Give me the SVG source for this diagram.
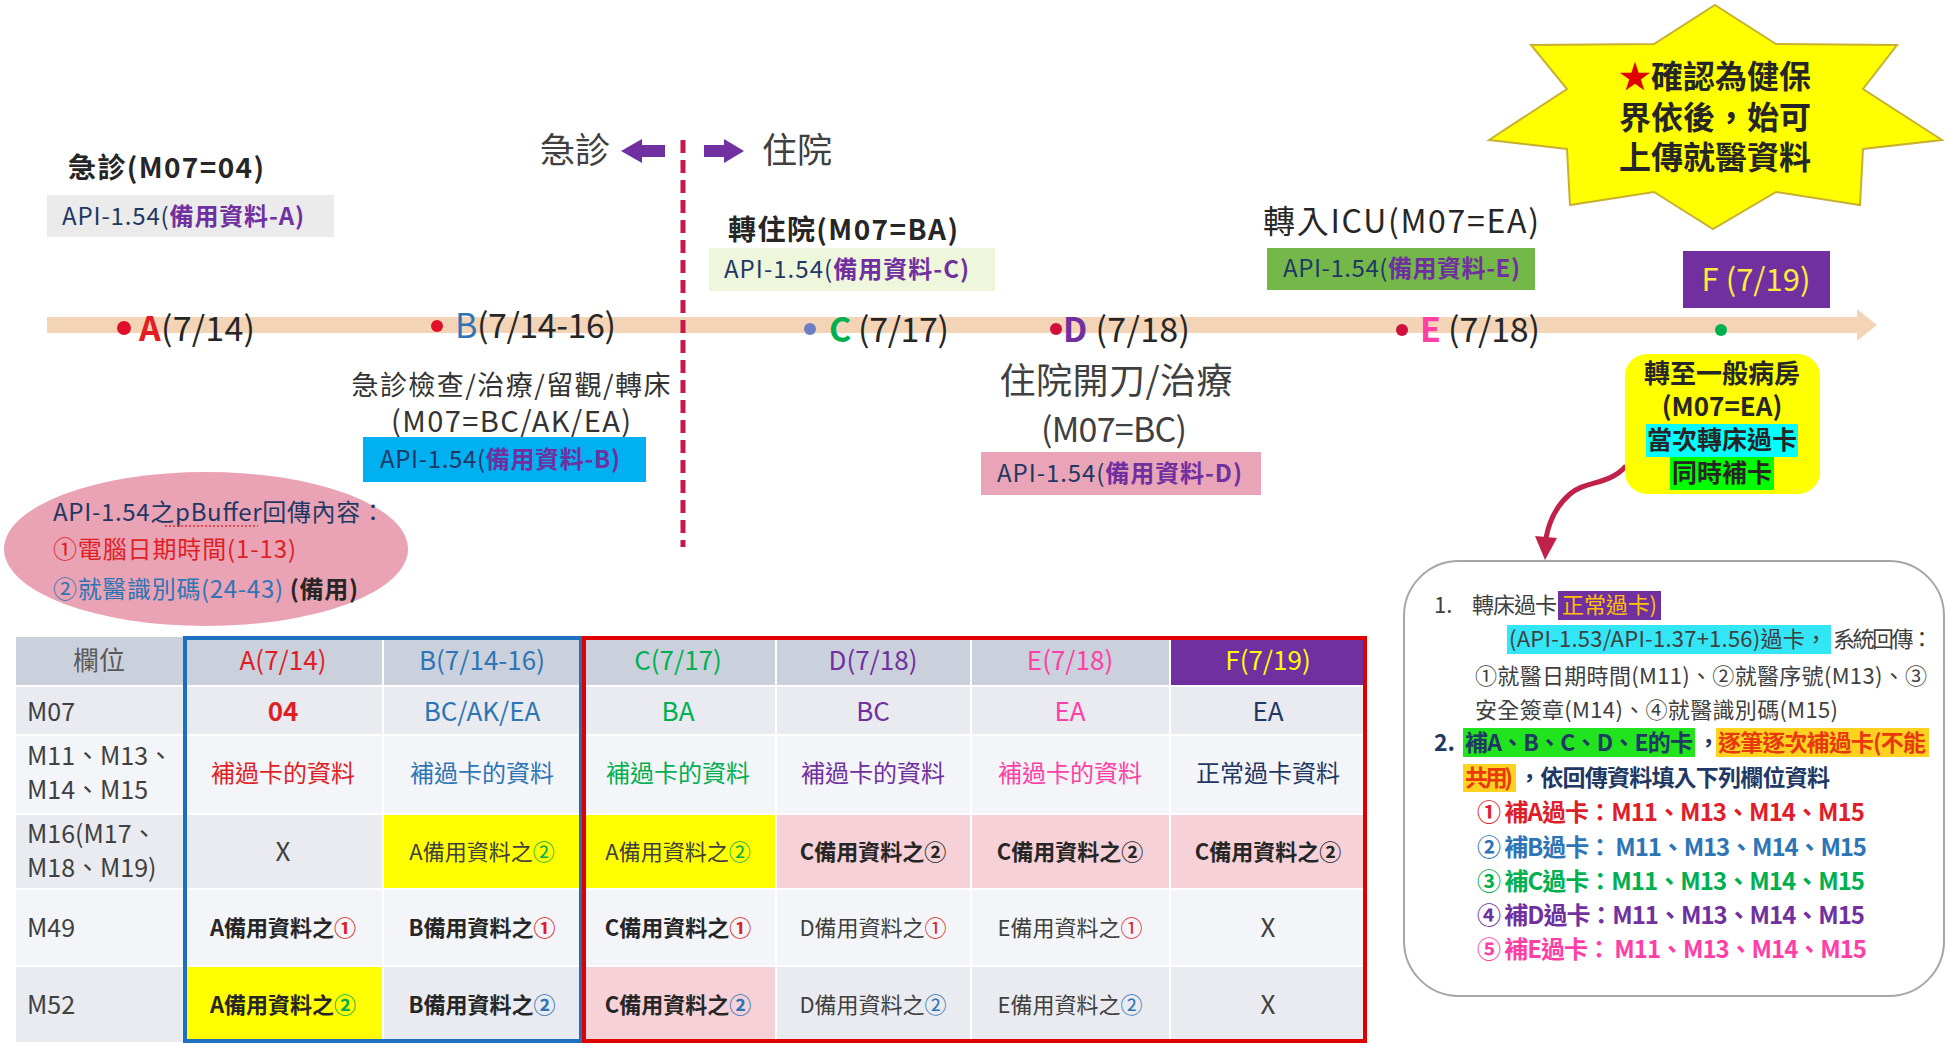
<svg xmlns="http://www.w3.org/2000/svg" width="1948" height="1043" viewBox="0 0 1948 1043">
<style>
text { font-family: "Noto Sans CJK TC", "Noto Sans CJK SC", sans-serif; }
.b { font-weight: bold; }
.navy { fill: #1f3864; }
.pur { fill: #7030a0; }
.dk { fill: #262626; }
.gr { fill: #404040; }
.red { fill: #e01e24; }
.blu { fill: #2e75b6; }
.grn { fill: #00b050; }
.mag { fill: #ff3fa6; }
.api { font-size: 24px; }
.cell { font-size: 24px; text-anchor: middle; }
.hdr { font-size: 26px; text-anchor: middle; }
.lbl { font-size: 25px; fill: #404040; }
.sub { font-size: 22px; text-anchor: middle; }
.tl { font-size: 34px; fill: #262626; }
.note { font-size: 22px; }
.nl { font-size: 24px; font-weight: bold; }
</style>
<rect width="1948" height="1043" fill="#ffffff"/>

<g id="connectors">
  <rect x="47" y="317" width="1812" height="16" fill="#f3d4b6"/>
  <polygon points="1857,309 1877,325 1857,341" fill="#f3d4b6"/>
  <line x1="683" y1="140" x2="683" y2="547" stroke="#c8174a" stroke-width="5" stroke-dasharray="13,7"/>
  <polygon points="621,151 642,139 642,145 665,145 665,157 642,157 642,163" fill="#7030a0"/>
  <polygon points="744,151 724,139 724,145 704,145 704,157 724,157 724,163" fill="#7030a0"/>
  <path d="M1626,466 C1608,486 1586,480 1570,494 C1556,506 1549,522 1546,538" fill="none" stroke="#c0204a" stroke-width="5"/>
  <polygon points="1535,536 1557,538 1545,560" fill="#c0204a"/>
</g>

<g id="label-er">
  <text x="540" y="163" font-size="35" class="gr">急診</text>
</g>
<g id="label-ip">
  <text x="762" y="163" font-size="35" class="gr">住院</text>
</g>

<g id="event-A">
  <text x="68" y="178" font-size="28" class="b dk" textLength="196">急診(M07=04)</text>
  <rect x="47" y="195" width="287" height="42" fill="#ebebeb"/>
  <text x="62" y="225" class="api" textLength="242"><tspan class="navy">API-1.54(</tspan><tspan class="pur b">備用資料-A)</tspan></text>
  <circle cx="124" cy="328" r="7" fill="#e0102a"/>
  <text x="139" y="341" class="tl" textLength="116"><tspan class="red b">A</tspan>(7/14)</text>
</g>

<g id="event-B">
  <circle cx="437" cy="326" r="6" fill="#e0102a"/>
  <text x="455" y="338" class="tl" textLength="161"><tspan class="blu">B</tspan>(7/14-16)</text>
  <text x="511" y="395" font-size="27" text-anchor="middle" fill="#333333" textLength="319">急診檢查/治療/留觀/轉床</text>
  <text x="511" y="432" font-size="29" text-anchor="middle" fill="#333333" textLength="240">(M07=BC/AK/EA)</text>
  <rect x="363" y="437" width="283" height="45" fill="#00b0f0"/>
  <text x="380" y="468" class="api" textLength="240"><tspan class="navy">API-1.54(</tspan><tspan class="pur b">備用資料-B)</tspan></text>
</g>

<g id="event-C">
  <text x="728" y="240" font-size="28" class="b dk" textLength="230">轉住院(M07=BA)</text>
  <rect x="709" y="248" width="286" height="43" fill="#eef6dc"/>
  <text x="724" y="278" class="api" textLength="245"><tspan class="navy">API-1.54(</tspan><tspan class="pur b">備用資料-C)</tspan></text>
  <circle cx="810" cy="329" r="6" fill="#6d7ec4"/>
  <text x="829" y="342" class="tl" textLength="120"><tspan class="grn b">C</tspan> (7/17)</text>
</g>

<g id="event-D">
  <circle cx="1056" cy="329" r="6" fill="#d0103a"/>
  <text x="1063" y="342" class="tl" textLength="127"><tspan class="pur b">D</tspan> (7/18)</text>
  <text x="1116" y="394" font-size="36" text-anchor="middle" class="gr" textLength="233">住院開刀/治療</text>
  <text x="1114" y="442" font-size="34" text-anchor="middle" class="gr" textLength="146">(M07=BC)</text>
  <rect x="981" y="452" width="280" height="43" fill="#e9a5b7"/>
  <text x="997" y="482" class="api" textLength="245"><tspan class="navy">API-1.54(</tspan><tspan class="pur b">備用資料-D)</tspan></text>
</g>

<g id="event-E">
  <text x="1263" y="233" font-size="32" class="dk" textLength="276">轉入ICU(M07=EA)</text>
  <rect x="1267" y="248" width="268" height="42" fill="#74b84a"/>
  <text x="1283" y="277" class="api" textLength="237"><tspan class="navy">API-1.54(</tspan><tspan class="pur b">備用資料-E)</tspan></text>
  <circle cx="1402" cy="330" r="6" fill="#d0103a"/>
  <text x="1420" y="342" class="tl" textLength="120"><tspan class="mag b">E</tspan> (7/18)</text>
</g>

<g id="event-F">
  <rect x="1683" y="251" width="147" height="57" fill="#7030a0"/>
  <text x="1756" y="291" font-size="31" text-anchor="middle" fill="#ffeb3b">F (7/19)</text>
  <circle cx="1721" cy="330" r="6" fill="#00b050"/>
  <rect x="1625" y="354" width="195" height="140" rx="22" fill="#ffff00"/>
  <text x="1722" y="383" font-size="26" text-anchor="middle" class="b dk">轉至一般病房</text>
  <text x="1722" y="416" font-size="26" text-anchor="middle" class="b dk">(M07=EA)</text>
  <rect x="1646" y="424" width="152" height="33" fill="#00ffff"/>
  <text x="1722" y="449" font-size="25" text-anchor="middle" class="b dk">當次轉床過卡</text>
  <rect x="1670" y="457" width="104" height="33" fill="#00ff00"/>
  <text x="1722" y="482" font-size="25" text-anchor="middle" class="b dk">同時補卡</text>
</g>

<g id="star-note">
  <polygon points="1715,5 1776,44 1897,45 1863,89 1942,140 1863,149 1860,205 1776,192 1713,229 1654,192 1570,205 1567,149 1489,140 1567,89 1531,45 1654,44" fill="#ffff00" stroke="#c8b030" stroke-width="2"/>
  <text x="1715" y="88" font-size="32" text-anchor="middle" class="b dk"><tspan fill="#e00000">★</tspan>確認為健保</text>
  <text x="1715" y="129" font-size="32" text-anchor="middle" class="b dk">界依後，始可</text>
  <text x="1715" y="169" font-size="32" text-anchor="middle" class="b dk">上傳就醫資料</text>
</g>

<g id="pbuffer-note">
  <ellipse cx="206" cy="549" rx="202" ry="77" fill="#eaa2b5"/>
  <text x="53" y="521" font-size="24" class="navy" textLength="332">API-1.54之pBuffer回傳內容：</text>
  <line x1="165" y1="526" x2="258" y2="526" stroke="#e03030" stroke-width="1.5" stroke-dasharray="2,2"/>
  <text x="53" y="558" font-size="24" class="red" textLength="243">①電腦日期時間(1-13)</text>
  <text x="53" y="598" font-size="24" textLength="305"><tspan class="blu">②就醫識別碼(24-43)</tspan><tspan class="b dk"> (備用)</tspan></text>
</g>

<g id="table">
  <g stroke="#ffffff" stroke-width="2">
    <rect x="15" y="636" width="169" height="50" fill="#cbd1dc"/>
    <rect x="184" y="636" width="199" height="50" fill="#cbd1dc"/>
    <rect x="383" y="636" width="198" height="50" fill="#cbd1dc"/>
    <rect x="581" y="636" width="195" height="50" fill="#cbd1dc"/>
    <rect x="776" y="636" width="195" height="50" fill="#cbd1dc"/>
    <rect x="971" y="636" width="199" height="50" fill="#cbd1dc"/>
    <rect x="1170" y="636" width="197" height="50" fill="#7030a0"/>

    <rect x="15" y="686" width="169" height="49" fill="#e9ebf0"/>
    <rect x="184" y="686" width="199" height="49" fill="#e9ebf0"/>
    <rect x="383" y="686" width="198" height="49" fill="#e9ebf0"/>
    <rect x="581" y="686" width="195" height="49" fill="#e9ebf0"/>
    <rect x="776" y="686" width="195" height="49" fill="#e9ebf0"/>
    <rect x="971" y="686" width="199" height="49" fill="#e9ebf0"/>
    <rect x="1170" y="686" width="197" height="49" fill="#e9ebf0"/>

    <rect x="15" y="735" width="169" height="79" fill="#f4f5f8"/>
    <rect x="184" y="735" width="199" height="79" fill="#f4f5f8"/>
    <rect x="383" y="735" width="198" height="79" fill="#f4f5f8"/>
    <rect x="581" y="735" width="195" height="79" fill="#f4f5f8"/>
    <rect x="776" y="735" width="195" height="79" fill="#f4f5f8"/>
    <rect x="971" y="735" width="199" height="79" fill="#f4f5f8"/>
    <rect x="1170" y="735" width="197" height="79" fill="#f4f5f8"/>

    <rect x="15" y="814" width="169" height="75" fill="#e9ebf0"/>
    <rect x="184" y="814" width="199" height="75" fill="#e9ebf0"/>
    <rect x="383" y="814" width="198" height="75" fill="#ffff00"/>
    <rect x="581" y="814" width="195" height="75" fill="#ffff00"/>
    <rect x="776" y="814" width="195" height="75" fill="#f6d2d8"/>
    <rect x="971" y="814" width="199" height="75" fill="#f6d2d8"/>
    <rect x="1170" y="814" width="197" height="75" fill="#f6d2d8"/>

    <rect x="15" y="889" width="169" height="77" fill="#f4f5f8"/>
    <rect x="184" y="889" width="199" height="77" fill="#f4f5f8"/>
    <rect x="383" y="889" width="198" height="77" fill="#f4f5f8"/>
    <rect x="581" y="889" width="195" height="77" fill="#f4f5f8"/>
    <rect x="776" y="889" width="195" height="77" fill="#f4f5f8"/>
    <rect x="971" y="889" width="199" height="77" fill="#f4f5f8"/>
    <rect x="1170" y="889" width="197" height="77" fill="#f4f5f8"/>

    <rect x="15" y="966" width="169" height="77" fill="#e9ebf0"/>
    <rect x="184" y="966" width="199" height="77" fill="#ffff00"/>
    <rect x="383" y="966" width="198" height="77" fill="#e9ebf0"/>
    <rect x="581" y="966" width="195" height="77" fill="#f6d2d8"/>
    <rect x="776" y="966" width="195" height="77" fill="#e9ebf0"/>
    <rect x="971" y="966" width="199" height="77" fill="#e9ebf0"/>
    <rect x="1170" y="966" width="197" height="77" fill="#e9ebf0"/>
  </g>
  <rect x="185" y="638" width="396" height="403" fill="none" stroke="#1f6fc0" stroke-width="4"/>
  <rect x="584" y="638" width="781" height="403" fill="none" stroke="#e00000" stroke-width="4"/>

  <text x="99" y="670" class="hdr" fill="#595959">欄位</text>
  <text x="283" y="670" class="hdr red">A(7/14)</text>
  <text x="482" y="670" class="hdr blu">B(7/14-16)</text>
  <text x="678" y="670" class="hdr grn">C(7/17)</text>
  <text x="873" y="670" class="hdr pur">D(7/18)</text>
  <text x="1070" y="670" class="hdr mag">E(7/18)</text>
  <text x="1268" y="670" class="hdr" fill="#ffff00">F(7/19)</text>

  <text x="27" y="721" class="lbl">M07</text>
  <text x="283" y="721" class="hdr red b">04</text>
  <text x="482" y="721" class="hdr blu">BC/AK/EA</text>
  <text x="678" y="721" class="hdr grn">BA</text>
  <text x="873" y="721" class="hdr pur">BC</text>
  <text x="1070" y="721" class="hdr mag">EA</text>
  <text x="1268" y="721" class="hdr navy">EA</text>

  <text x="27" y="765" class="lbl">M11、M13、</text>
  <text x="27" y="799" class="lbl">M14、M15</text>
  <text x="283" y="782" class="cell red">補過卡的資料</text>
  <text x="482" y="782" class="cell blu">補過卡的資料</text>
  <text x="678" y="782" class="cell grn">補過卡的資料</text>
  <text x="873" y="782" class="cell pur">補過卡的資料</text>
  <text x="1070" y="782" class="cell mag">補過卡的資料</text>
  <text x="1268" y="782" class="cell navy">正常過卡資料</text>

  <text x="27" y="843" class="lbl">M16(M17、</text>
  <text x="27" y="877" class="lbl">M18、M19)</text>
  <text x="283" y="861" class="hdr gr">X</text>
  <text x="482" y="860" class="sub gr" font-size="23">A備用資料之<tspan class="grn">②</tspan></text>
  <text x="678" y="860" class="sub gr" font-size="21">A備用資料之<tspan class="grn">②</tspan></text>
  <text x="873" y="860" class="sub b dk">C備用資料之②</text>
  <text x="1070" y="860" class="sub b dk">C備用資料之②</text>
  <text x="1268" y="860" class="sub b dk">C備用資料之②</text>

  <text x="27" y="937" class="lbl">M49</text>
  <text x="283" y="936" class="sub b dk">A備用資料之<tspan class="red">①</tspan></text>
  <text x="482" y="936" class="sub b dk">B備用資料之<tspan class="red">①</tspan></text>
  <text x="678" y="936" class="sub b dk">C備用資料之<tspan class="red">①</tspan></text>
  <text x="873" y="936" class="sub gr">D備用資料之<tspan class="red">①</tspan></text>
  <text x="1070" y="936" class="sub gr">E備用資料之<tspan class="red">①</tspan></text>
  <text x="1268" y="937" class="hdr gr">X</text>

  <text x="27" y="1014" class="lbl">M52</text>
  <text x="283" y="1013" class="sub b dk">A備用資料之<tspan class="grn">②</tspan></text>
  <text x="482" y="1013" class="sub b dk">B備用資料之<tspan class="blu">②</tspan></text>
  <text x="678" y="1013" class="sub b dk">C備用資料之<tspan class="blu">②</tspan></text>
  <text x="873" y="1013" class="sub gr">D備用資料之<tspan class="blu">②</tspan></text>
  <text x="1070" y="1013" class="sub gr">E備用資料之<tspan class="blu">②</tspan></text>
  <text x="1268" y="1014" class="hdr gr">X</text>
</g>

<g id="rule-note">
  <rect x="1404" y="561" width="540" height="435" rx="55" fill="#ffffff" stroke="#a6a6a6" stroke-width="2"/>
  <text x="1434" y="613" class="note gr">1.</text>
  <text x="1472" y="613" class="note gr" textLength="85">轉床過卡</text>
  <rect x="1558" y="591" width="103" height="29" fill="#7030a0"/>
  <text x="1562" y="613" class="note" fill="#ffc000" textLength="95">正常過卡)</text>
  <rect x="1507" y="625" width="324" height="29" fill="#33e6f5"/>
  <text x="1509" y="647" class="note gr" textLength="318">(API-1.53/API-1.37+1.56)過卡，</text>
  <text x="1833" y="647" class="note gr" textLength="100">系統回傳：</text>
  <text x="1475" y="684" class="note gr" textLength="452">①就醫日期時間(M11)、②就醫序號(M13)、③</text>
  <text x="1475" y="718" class="note gr" textLength="363">安全簽章(M14)、④就醫識別碼(M15)</text>
  <text x="1434" y="751" font-size="23" class="b navy">2.</text>
  <rect x="1463" y="728" width="232" height="29" fill="#22e41e"/>
  <text x="1465" y="751" font-size="23" class="b navy" textLength="228">補A、B、C、D、E的卡</text>
  <text x="1697" y="751" font-size="23" class="b navy">，</text>
  <rect x="1716" y="728" width="213" height="29" fill="#ffd21f"/>
  <text x="1718" y="751" font-size="23" class="b" fill="#e8380d" textLength="208">逐筆逐次補過卡(不能</text>
  <rect x="1463" y="764" width="53" height="28" fill="#ffd21f"/>
  <text x="1465" y="786" font-size="23" class="b" fill="#e8380d" textLength="48">共用)</text>
  <text x="1518" y="786" font-size="23" class="b navy" textLength="312">，依回傳資料填入下列欄位資料</text>
  <text x="1477" y="821" class="nl" fill="#e01e2a" textLength="388">① 補A過卡：M11、M13、M14、M15</text>
  <text x="1477" y="856" class="nl blu" textLength="390">② 補B過卡： M11、M13、M14、M15</text>
  <text x="1477" y="890" class="nl grn" textLength="388">③ 補C過卡：M11、M13、M14、M15</text>
  <text x="1477" y="924" class="nl pur" textLength="388">④ 補D過卡：M11、M13、M14、M15</text>
  <text x="1477" y="958" class="nl mag" textLength="390">⑤ 補E過卡： M11、M13、M14、M15</text>
</g>
</svg>
